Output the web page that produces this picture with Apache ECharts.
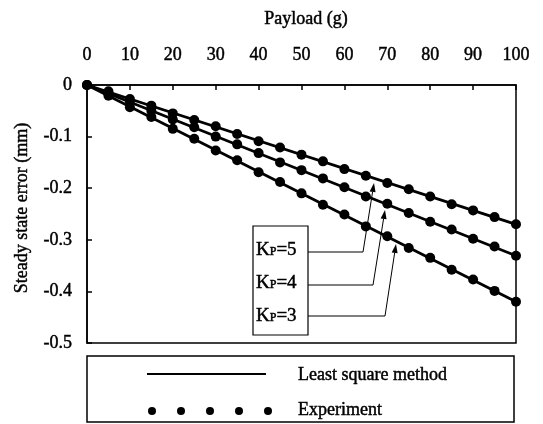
<!DOCTYPE html>
<html><head><meta charset="utf-8">
<script src="https://cdn.jsdelivr.net/npm/echarts/dist/echarts.min.js"></script>
<style>html,body{margin:0;padding:0;background:#fff}#c{width:543px;height:424px}</style>
</head><body><div id="c"></div>
<script>
// ---- data ----
const payload = [0,5,10,15,20,25,30,35,40,45,50,55,60,65,70,75,80,85,90,95,100];
const expKp5 = [0,-0.012,-0.027,-0.040,-0.055,-0.068,-0.080,-0.095,-0.109,-0.121,-0.135,-0.148,-0.163,-0.176,-0.190,-0.202,-0.216,-0.231,-0.243,-0.256,-0.270];
const expKp4 = [0,-0.017,-0.032,-0.050,-0.067,-0.082,-0.100,-0.115,-0.132,-0.150,-0.165,-0.181,-0.198,-0.216,-0.230,-0.248,-0.265,-0.280,-0.298,-0.313,-0.331];
const expKp3 = [0,-0.021,-0.043,-0.062,-0.085,-0.104,-0.127,-0.146,-0.169,-0.188,-0.210,-0.232,-0.251,-0.274,-0.293,-0.316,-0.335,-0.358,-0.377,-0.399,-0.420];
const lsqX = [0,100];
const lsqKp5 = [0,-0.270];
const lsqKp4 = [0,-0.331];
const lsqKp3 = [0,-0.420];
const xTicks = {min:0,max:100,step:10};
const yTicks = {min:-0.5,max:0,step:0.1};
const kpLabels = ['5','4','3'];

const F = '"Liberation Serif","Times New Roman",serif';
const chart = echarts.init(document.getElementById('c'));
const pairs = (xs, ys) => xs.map((x,i)=>[x, ys[i]]);
const TB = 0.45; // slight stroke to mimic the heavier scanned type

function leader(pts){
  const n = pts.length, tip = pts[n-1], prev = pts[n-2];
  const dx = tip[0]-prev[0], dy = tip[1]-prev[1], L = Math.hypot(dx,dy);
  const ux = dx/L, uy = dy/L, len = 9, w = 3;
  const bx = tip[0]-ux*len, by = tip[1]-uy*len;
  return [
    {type:'polyline', shape:{points: pts.slice(0,n-1).concat([[bx,by]])}, style:{stroke:'#000', lineWidth:1, fill:null}, z:10},
    {type:'polygon', shape:{points:[[tip[0],tip[1]],[bx-uy*w,by+ux*w],[bx+uy*w,by-ux*w]]}, style:{fill:'#000'}, z:10}
  ];
}

const kpRich = {
  k:{fontSize:19, fontFamily:F, color:'#000'},
  p:{fontSize:12, fontFamily:F, color:'#000', verticalAlign:'bottom', padding:[0,0,2,0]}
};
const txt = (t, x, y, extra) => Object.assign({type:'text', x:x, y:y,
  style:{text:t, fontSize:18, fontFamily:F, fill:'#000', stroke:'#000', lineWidth:TB, textVerticalAlign:'middle'}}, extra || {});
const graphics = [
  txt('Payload (g)', 306, 19),
  txt('Steady state error (mm)', 22, 208, {rotation:Math.PI/2}),
  // K_P label box
  {type:'rect', shape:{x:253, y:226, width:55, height:109}, style:{fill:'#fff', stroke:'#000', lineWidth:1.2}, z:9},
  // legend box
  {type:'rect', shape:{x:87, y:356, width:427, height:66}, style:{fill:'#fff', stroke:'#000', lineWidth:1.5}},
  {type:'line', shape:{x1:147, y1:374, x2:266, y2:374}, style:{stroke:'#000', lineWidth:2}},
  txt('Least square method', 298, 375),
  txt('Experiment', 298, 410)
];
graphics[0].style.textAlign = 'center';
graphics[1].style.textAlign = 'center';
[152,181,210,239,268].forEach(cx => graphics.push({type:'circle', shape:{cx:cx, cy:411, r:4}, style:{fill:'#000'}}));
[250,283,316].forEach((y,i) => graphics.push({type:'text', x:256, y:y, z:11,
  style:{text:'{k|K}{p|P}{k|='+kpLabels[i]+'}', rich:kpRich, fill:'#000', stroke:'#000', lineWidth:TB, textVerticalAlign:'middle'}}));
graphics.push(...leader([[308,252],[363,252],[374,183]]));
graphics.push(...leader([[308,285],[373,285],[385,210]]));
graphics.push(...leader([[308,316],[385,316],[396,244]]));

const dotSeries = (d) => ({type:'scatter', data:pairs(payload,d), symbolSize:10, itemStyle:{color:'#000', opacity:1}, z:3, silent:true});
const lineSeries = (d) => ({type:'line', data:pairs(lsqX,d), showSymbol:false, symbol:'none', lineStyle:{color:'#000', width:2.8}, z:2, silent:true});
const lbl = {fontSize:18, fontFamily:F, color:'#000', textBorderColor:'#000', textBorderWidth:TB};

chart.setOption({
  animation:false,
  backgroundColor:'#fff',
  grid:{left:87, right:27, top:85, bottom:81, show:true, borderColor:'#000', borderWidth:1.5, backgroundColor:'transparent'},
  xAxis:{type:'value', position:'top', min:xTicks.min, max:xTicks.max, interval:xTicks.step,
    axisLine:{show:true, lineStyle:{color:'#000', width:1.5}},
    axisTick:{show:true, inside:true, length:5, lineStyle:{color:'#000', width:1.5}},
    axisLabel:Object.assign({show:true, margin:21}, lbl),
    splitLine:{show:false}},
  yAxis:{type:'value', min:yTicks.min, max:yTicks.max, interval:yTicks.step,
    axisLine:{show:true, lineStyle:{color:'#000', width:1.5}},
    axisTick:{show:true, inside:true, length:5, lineStyle:{color:'#000', width:1.5}},
    axisLabel:Object.assign({show:true, margin:15,
      formatter: v => Math.abs(v) < 1e-9 ? '0' : v.toFixed(1)}, lbl),
    splitLine:{show:false}},
  series:[lineSeries(lsqKp5), lineSeries(lsqKp4), lineSeries(lsqKp3), dotSeries(expKp5), dotSeries(expKp4), dotSeries(expKp3)],
  graphic:graphics
});
</script></body></html>
